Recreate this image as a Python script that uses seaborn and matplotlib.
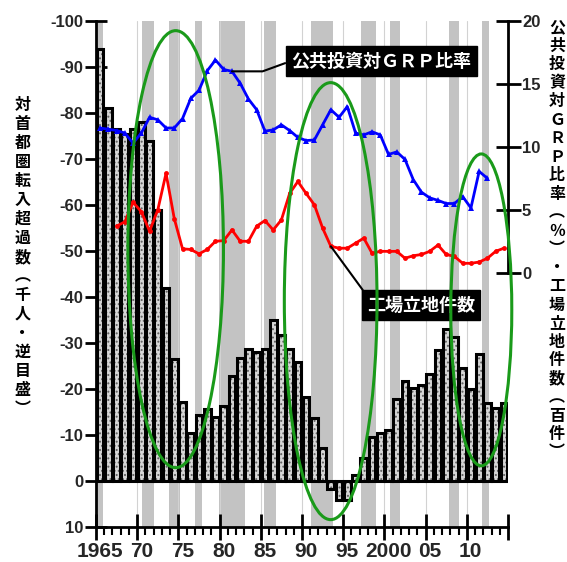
import matplotlib
matplotlib.use("Agg")
import matplotlib.pyplot as plt
import matplotlib.transforms as mtransforms
from matplotlib import font_manager
from matplotlib.patches import Ellipse
import numpy as np
import pandas as pd
import seaborn as sns

# net inflow to the Tokyo area (thousand people, reversed axis), 1965-2014
years = np.arange(1965, 2015)
inflow = [-94, -81, -76.5, -75.5, -76.5, -78, -74, -59, -42, -26.5,
          -17.2, -10.5, -14.3, -15.7, -13.9, -16.3, -22.8, -26.8, -28.6, -28,
          -28.6, -35, -31.7, -28.6, -25.9, -18.3, -13.8, -7.2, 1.8, 4.2,
          4.2, -1.4, -5.1, -9.6, -10.5, -11, -17.9, -21.7, -20.3, -20.8,
          -23.3, -28.5, -33, -31.3, -24.6, -20.1, -27.7, -16.9, -15.9, -16.9]

# public investment / GRP ratio (%), 1965-2012
years_blue = np.arange(1965, 2013)
invest_ratio = [11.5, 11.4, 11.3, 11.1, 10.3, 11.1, 12.35, 12.15, 11.5, 11.5,
                12.25, 13.85, 14.5, 16.05, 16.9, 16.15, 16.0, 15.05, 13.8, 12.95,
                11.25, 11.35, 11.75, 11.3, 10.75, 10.5, 10.55, 11.75, 12.95, 12.35,
                13.2, 11.1, 10.95, 11.2, 10.95, 9.4, 9.6, 9.0, 7.4, 6.4,
                5.95, 5.75, 5.5, 5.5, 6.05, 5.15, 8.05, 7.5]

# factory locations, 1967-2014 (on the right scale)
years_red = np.arange(1967, 2015)
factories = [3.7, 4.05, 5.6, 4.85, 3.3, 5.0, 7.9, 4.3, 1.9, 1.85,
             1.5, 1.85, 2.5, 2.55, 3.4, 2.5, 2.5, 3.7, 4.15, 3.4,
             4.2, 6.3, 7.25, 6.3, 5.4, 3.55, 2.1, 1.95, 1.95, 2.35,
             2.75, 1.55, 1.7, 1.7, 1.7, 1.15, 1.35, 1.45, 1.7, 2.2,
             1.45, 1.3, 0.75, 0.75, 0.85, 1.15, 1.7, 1.95]

# recession periods (shaded)
recessions = [(1965.0, 1965.85), (1970.6, 1972.0), (1973.9, 1975.2), (1977.0, 1977.9),
              (1979.95, 1983.1), (1985.4, 1986.9), (1991.1, 1993.8), (1997.2, 1999.0),
              (2000.7, 2001.9), (2007.9, 2009.1), (2011.85, 2012.65)]

xtick_years = list(range(1965, 2016, 5))
xtick_labels = ["1965", "70", "75", "80", "85", "90", "95", "2000", "05", "10", ""]

left_label = "対首都圏転入超過数︵千人・逆目盛︶"
right_label = "公共投資対ＧＲＰ比率︵％︶・工場立地件数︵百件︶"

sns.set_theme(style="white")
plt.rcParams["font.family"] = ["Noto Sans CJK JP", "DejaVu Sans"]
plt.rcParams["axes.unicode_minus"] = False
plt.rcParams["hatch.linewidth"] = 0.9

available = {f.name for f in font_manager.fontManager.ttflist}
num_font = next((f for f in ["Liberation Sans Narrow", "Liberation Sans"] if f in available), "DejaVu Sans")

W, H = 567, 562
fig = plt.figure(figsize=(W / 100, H / 100), dpi=100)
ax = fig.add_axes([96 / W, 1 - 527 / H, 412 / W, 506 / H])

for a, b in recessions:
    ax.axvspan(a, b, color="#c3c3c3", lw=0, zorder=0)
for yr in range(1970, 2015, 5):
    ax.axvline(yr, color="#d2d2d2", lw=0.8, zorder=0.5)

df = pd.DataFrame({"year": years + 0.5, "inflow": inflow})
# dotted grey fill, then black outlines on top
sns.barplot(data=df, x="year", y="inflow", native_scale=True, orient="x", width=0.82,
            color="#d6d6d6", saturation=1, edgecolor="#606060", linewidth=0,
            hatch="....", errorbar=None, ax=ax, zorder=2)
sns.barplot(data=df, x="year", y="inflow", native_scale=True, orient="x", width=0.82,
            color="black", fill=False, linewidth=2.2, errorbar=None, ax=ax, zorder=3)

ax.set_xlim(1965, 2015)
ax.set_ylim(10, -100)
ax.set_yticks(np.arange(-100, 11, 10))
ax.set_xticks(xtick_years)
ax.set_xticklabels(xtick_labels)
ax.set_xticks(np.arange(1965, 2016), minor=True)
ax.set_xlabel("")
ax.set_ylabel("")
for s in ["top", "right"]:
    ax.spines[s].set_visible(False)
for s in ["left", "bottom"]:
    ax.spines[s].set_linewidth(2)
    ax.spines[s].set_color("black")
ax.tick_params(axis="y", which="major", direction="inout", length=16, width=2,
               labelsize=12, pad=1, left=True, color="black")
ax.tick_params(axis="x", which="major", direction="inout", length=19, width=2,
               labelsize=15, pad=1, bottom=True, color="black")
ax.tick_params(axis="x", which="minor", direction="out", length=6, width=1.5,
               bottom=True, color="black")

ax2 = ax.twinx()
sns.lineplot(x=years_blue + 0.5, y=invest_ratio, ax=ax2, color="#0000ff", lw=2,
             marker="^", markersize=4.5, markeredgewidth=0, zorder=4)
sns.lineplot(x=years_red + 0.5, y=factories, ax=ax2, color="#ff0000", lw=2,
             marker="o", markersize=3.5, markeredgewidth=0, zorder=4)
ax2.set_ylim(-20.2, 20)
ax2.set_yticks([0, 5, 10, 15, 20])
ax2.set_xlim(1965, 2015)
ax2.set_ylabel("")
for s in ["top", "left", "bottom"]:
    ax2.spines[s].set_visible(False)
ax2.spines["right"].set_bounds(0, 20)
ax2.spines["right"].set_linewidth(2)
ax2.spines["right"].set_color("black")
ax2.tick_params(axis="y", direction="inout", length=18, width=2, labelsize=12,
                pad=1, right=True, color="black")

for lbl in ax.get_yticklabels() + ax.get_xticklabels() + ax2.get_yticklabels():
    lbl.set_fontfamily(num_font)
    lbl.set_fontweight("bold")
shift = mtransforms.ScaledTranslation(0.04, 0, fig.dpi_scale_trans)
for lbl in ax.get_xticklabels():
    lbl.set_transform(lbl.get_transform() + shift)

box = dict(boxstyle="square,pad=0.3", fc="black", ec="black")
ax2.annotate("公共投資対ＧＲＰ比率", xy=(1981.5, invest_ratio[16]), xytext=(0.692, 0.921),
             textcoords="axes fraction", ha="center", va="center", color="white",
             fontsize=13, fontweight="bold", bbox=box, zorder=5,
             arrowprops=dict(arrowstyle="-", color="black", lw=1.5, relpos=(0, 0.5),
                             shrinkA=0, shrinkB=0,
                             connectionstyle="angle,angleA=20,angleB=0,rad=0"))
ax2.annotate("工場立地件数", xy=(1993.5, factories[26]), xytext=(0.789, 0.438),
             textcoords="axes fraction", ha="center", va="center", color="white",
             fontsize=13, fontweight="bold", bbox=box, zorder=5,
             arrowprops=dict(arrowstyle="-", color="black", lw=1.5, relpos=(0, 1),
                             shrinkA=0, shrinkB=0))

# green ellipses (in inflow-axis units)
for cx, cy, w, h in [(1974.67, -50.4, 11.6, 95), (1993.48, -39.1, 11.25, 95),
                     (2011.76, -37.2, 7.4, 67.8)]:
    ax2.add_patch(Ellipse((cx, cy), w, h, transform=ax.transData, fill=False,
                          edgecolor="#1a9a1a", lw=2.2, zorder=6, clip_on=False))


def vertical_label(chars, x_px, y0_px, step_px, size):
    for i, ch in enumerate(chars):
        fig.text(x_px / W, 1 - (y0_px + i * step_px) / H, ch, ha="center", va="center",
                 fontsize=size, fontweight="bold", color="black")


vertical_label(left_label, 22.5, 105, 19, 11.5)
vertical_label(right_label, 557, 27, 18.5, 11.5)

fig.savefig("out.png", dpi=100)
